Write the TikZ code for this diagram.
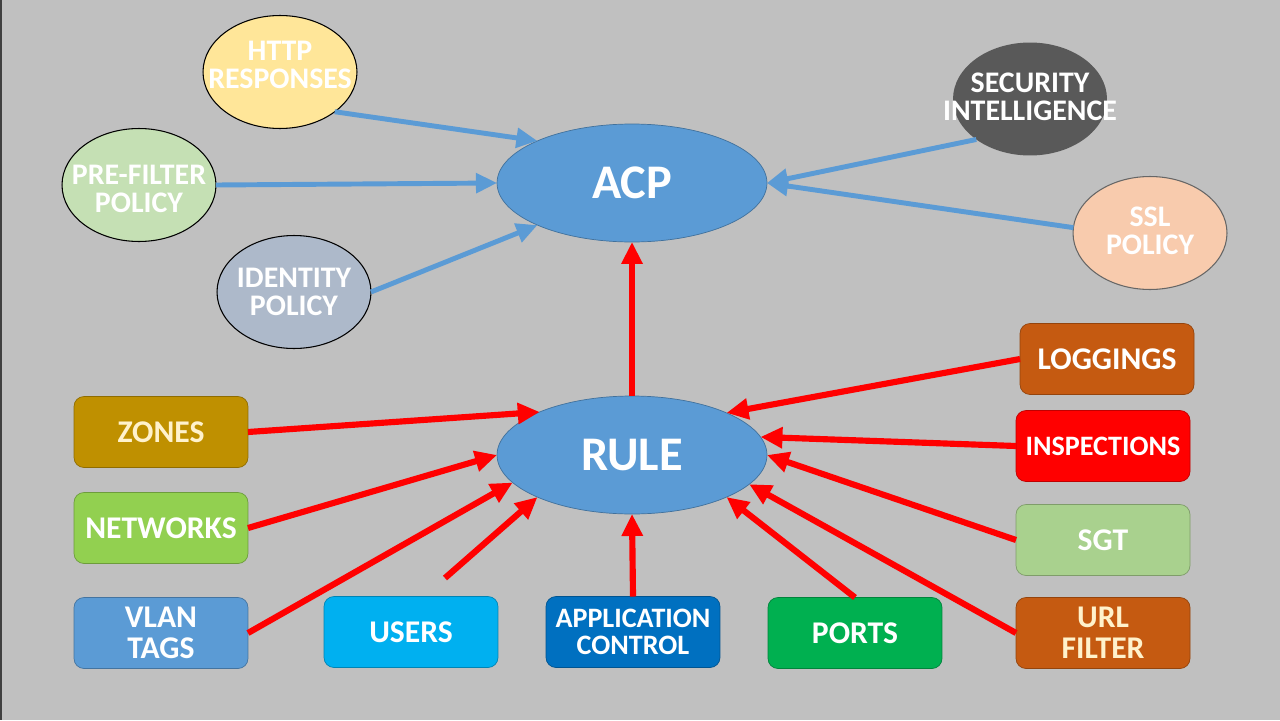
\documentclass[tikz,border=0pt]{standalone}
\usepackage{fontspec}
\setmainfont{Carlito}
\usetikzlibrary{shapes.geometric,arrows.meta}
\definecolor{bgray}{HTML}{C0C0C0}
\definecolor{hubblue}{HTML}{5B9BD5}
\definecolor{hubline}{HTML}{41719C}
\definecolor{httpy}{HTML}{FFE699}
\definecolor{preg}{HTML}{C5E0B4}
\definecolor{idbl}{HTML}{ADB9CA}
\definecolor{secg}{HTML}{595959}
\definecolor{sslp}{HTML}{F8CBAD}
\definecolor{zoneg}{HTML}{BF9000}
\definecolor{netg}{HTML}{92D050}
\definecolor{userb}{HTML}{00B0F0}
\definecolor{appb}{HTML}{0070C0}
\definecolor{portg}{HTML}{00B050}
\definecolor{logo}{HTML}{C55A11}
\definecolor{sgtg}{HTML}{A9D18E}
\definecolor{cream}{HTML}{FFF2CC}

\begin{document}
\begin{tikzpicture}[x=0.02cm,y=-0.02cm,
    txt/.style={text=white,font=\bfseries\fontsize{17}{16}\selectfont,align=center},
    hub/.style={ellipse,draw=hubline,fill=hubblue,minimum width=5.4cm,minimum height=2.36cm,
        inner sep=0,outer sep=0,text=white,font=\bfseries\fontsize{27.5}{30}\selectfont},
    pol/.style={ellipse,fill=#1,minimum width=3.08cm,minimum height=2.26cm,inner sep=0,outer sep=0,line width=0.6pt},
    obj/.style={rounded corners=0.2cm,fill=#1,draw=#1!75!black,minimum width=3.48cm,minimum height=1.42cm,
        inner sep=0,outer sep=0,align=center,text=white,font=\bfseries\fontsize{18}{17.5}\selectfont},
    small/.style={font=\bfseries\fontsize{16}{15.5}\selectfont},
    blu/.style={draw=hubblue,line width=2.8pt,-{Triangle[length=12pt,width=11pt]}},
    rd/.style={draw=red,line width=3.5pt,-{Triangle[length=12.5pt,width=11.5pt]}}]
    \fill[bgray] (0,0) rectangle (1280,720);
    \fill[black!75] (0,0) rectangle (2,720);
    \useasboundingbox (0,0) rectangle (1280,720);
    \node[hub] (acp) at (632,183) {ACP};
    \node[hub] (rule) at (632,455) {RULE};
    \node[pol=httpy,draw=black,label={[txt,yshift=4pt]center:HTTP\\RESPONSES}] (http) at (280,72) {};
    \node[pol=preg,draw=black,label={[txt,yshift=-2pt]center:PRE-FILTER\\POLICY}] (pre) at (139,185) {};
    \node[pol=idbl,draw=black,label={[txt]center:IDENTITY\\POLICY}] (ident) at (294,292) {};
    \node[pol=secg,label={[txt,yshift=1.5pt]center:SECURITY\\INTELLIGENCE}] (sec) at (1030,99) {};
    \node[pol=sslp,draw=black!60,label={[txt,yshift=1pt]center:SSL\\POLICY}] (ssl) at (1150,233) {};
    \node[obj=zoneg,text=cream] (zones) at (161,432) {ZONES};
    \node[obj=netg] (nets) at (161,528) {NETWORKS};
    \node[obj=hubblue] (vlan) at (161,633) {VLAN\\TAGS};
    \node[obj=userb] (users) at (411,632) {USERS};
    \node[obj=appb,small] (app) at (633,632) {APPLICATION\\CONTROL};
    \node[obj=portg] (ports) at (855,633) {PORTS};
    \node[obj=logo] (logs) at (1107,359) {LOGGINGS};
    \node[obj=red,small] (insp) at (1103,446) {INSPECTIONS};
    \node[obj=sgtg] (sgt) at (1103,540) {SGT};
    \node[obj=logo,text=cream] (url) at (1103,633) {URL\\FILTER};
    \coordinate (ufree) at (445,578);
    \draw[blu] (http.-36) -- (acp.156);
    \draw[blu] (pre.east) -- (acp.west);
    \draw[blu] (ident.east) -- (acp.204);
    \draw[blu] (sec.217) -- (acp.east);
    \draw[blu] (ssl.176) -- (acp.east);
    \draw[rd] (rule.north) -- (acp.south);
    \draw[rd] (zones.east) -- (rule.155);
    \draw[rd] (nets.east) -- (rule.west);
    \draw[rd] (vlan.east) -- (rule.193);
    \draw[rd] (ufree) -- (rule.204);
    \draw[rd] (app.north) -- (rule.south);
    \draw[rd] (ports.north) -- (rule.-24);
    \draw[rd] (url.west) -- (rule.-14);
    \draw[rd] (sgt.west) -- (rule.east);
    \draw[rd] (insp.west) -- (rule.8);
    \draw[rd] (logs.west) -- (rule.24);
\end{tikzpicture}
\end{document}
